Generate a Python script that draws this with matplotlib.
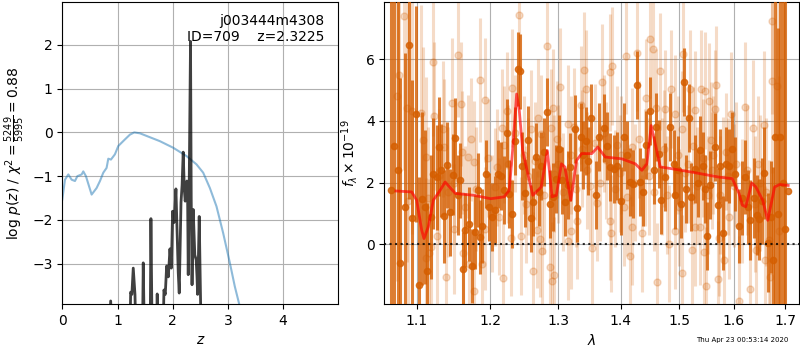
import numpy as np
import matplotlib
matplotlib.use('Agg')
import matplotlib.pyplot as plt
from matplotlib.ticker import NullLocator, FixedLocator, FixedFormatter

# --- p(z) panel ---
z_chi2 = [0.0, 0.048, 0.109, 0.169, 0.229, 0.272, 0.350, 0.380, 0.428, 0.531,
          0.621, 0.682, 0.742, 0.802, 0.833, 0.881, 0.953, 1.014, 1.134, 1.225,
          1.303, 1.406, 1.587, 1.768, 2.009, 2.250, 2.431, 2.552, 2.673, 2.793,
          2.914, 3.035, 3.125, 3.204, 3.30]
chi2_scaled = [-1.53, -1.08, -0.96, -1.08, -1.11, -1.0, -0.96, -0.89, -1.0, -1.42,
               -1.27, -1.11, -0.92, -0.81, -0.60, -0.62, -0.50, -0.31, -0.16, -0.05,
               0.0, -0.02, -0.11, -0.20, -0.35, -0.54, -0.73, -0.92, -1.27, -1.69,
               -2.30, -2.98, -3.52, -3.92, -4.6]

z_pdf = [0.84, 0.876, 0.91, 1.22, 1.238, 1.26, 1.285, 1.316, 1.34, 1.45,
         1.466, 1.49, 1.59, 1.605, 1.63, 1.70, 1.719, 1.74, 1.82, 1.841,
         1.865, 1.890, 1.92, 1.950, 1.975, 1.998, 2.022, 2.04, 2.058, 2.08,
         2.10, 2.118, 2.15, 2.17, 2.190, 2.21, 2.226, 2.257, 2.27, 2.281,
         2.30, 2.3225, 2.335, 2.35, 2.371, 2.40, 2.425, 2.44, 2.451, 2.465,
         2.480, 2.50, 2.52]
log_pdf = [-5, -3.85, -5, -5, -3.65, -3.70, -3.10, -3.70, -5, -5,
           -2.98, -5, -5, -1.97, -5, -5, -3.69, -5, -5, -3.60,
           -3.70, -3.05, -3.30, -2.66, -3.10, -1.80, -2.06, -1.75, -1.29, -2.30,
           -3.20, -3.67, -1.60, -1.20, -0.45, -1.30, -1.57, -1.11, -1.50, -3.25,
           -1.00, 2.08, -1.50, -3.48, -1.76, -2.80, -2.91, -3.30, -3.70, -2.90,
           -1.92, -3.50, -5]

# --- spectrum panel ---
# binned spectrum (dark)
wave_d = [1.0670, 1.0712, 1.0754, 1.0789, 1.0850, 1.0895, 1.0933, 1.0995, 1.1034, 1.1074,
          1.1113, 1.1139, 1.1183, 1.1217, 1.1262, 1.1296, 1.1322, 1.1362, 1.1401, 1.1446,
          1.1477, 1.1508, 1.1545, 1.1584, 1.1625, 1.1652, 1.1696, 1.1737, 1.1778, 1.1824,
          1.1858, 1.1887, 1.1933, 1.1980, 1.2020, 1.2069, 1.2110, 1.2151, 1.2189, 1.2232,
          1.2271, 1.2305, 1.2354, 1.2392, 1.2427, 1.2465, 1.2509, 1.2548, 1.2588, 1.2627,
          1.2671, 1.2707, 1.2746, 1.2785, 1.2835, 1.2875, 1.2925, 1.2970, 1.3016, 1.3057,
          1.3113, 1.3148, 1.3189, 1.3260, 1.3302, 1.3353, 1.3390, 1.3430, 1.3472, 1.3519,
          1.3589, 1.3643, 1.3722, 1.3776, 1.3830, 1.3885, 1.3942, 1.4000, 1.4053, 1.4100,
          1.4146, 1.4208, 1.4264, 1.4314, 1.4370, 1.4432, 1.4500, 1.4557, 1.4600, 1.4646,
          1.4690, 1.4758, 1.4844, 1.4902, 1.4930, 1.4980, 1.5034, 1.5087, 1.5122, 1.5181,
          1.5209, 1.5280, 1.5330, 1.5379, 1.5428, 1.5470, 1.5507, 1.5562, 1.5641, 1.5702,
          1.5745, 1.5806, 1.5857, 1.5919, 1.5975, 1.6032, 1.6107, 1.6160, 1.6221, 1.6270,
          1.6311, 1.6380, 1.6440, 1.6491, 1.6540, 1.6588, 1.6654, 1.6719, 1.6760, 1.6805,
          1.6850, 1.6905, 1.6950, 1.7000, 1.7059]
flux_d = [1.75, 3.2, 2.40, -0.61, 1.2, 6.46, 0.84, 4.22, -1.31, 1.48,
          1.21, -0.85, 0.89, 2.29, 2.18, 3.17, 2.40, 0.91, 2.58, 1.04,
          2.26, 3.43, 1.6, 2.07, -0.79, 0.46, 0.65, -0.71, 0.40, 1.75,
          0.25, 0.6, 2.29, 1.2, 0.9, 1.13, 2.29, 2.23, 1.75, 3.6,
          1.64, 0.97, 3.36, 5.67, 5.6, 2.55, 1.66, 3.38, 0.84, 1.38,
          2.82, 1.70, 2.55, 3.0, 4.3, 1.3, 1.54, 2.13, 3.09, 2.07,
          1.38, 1.92, 2.5, 3.74, 1.19, 3.47, 2.9, 3.36, 2.7, 4.1,
          1.61, 3.48, 3.78, 3.2, 2.5, 2.45, 2.55, 1.4, 3.47, 2.9,
          2.02, 1.97, 5.16, 2.02, 1.70, 3.22, 4.31, 2.4, 3.8, 2.93,
          1.43, 2.18, 3.81, 2.61, 1.59, 2.4, 1.30, 5.25, 1.79, 4.09,
          1.54, 2.45, 2.0, 3.06, 2.55, 1.8, 0.26, 1.93, 3.15, 1.26,
          2.55, 0.37, 2.61, 2.55, 3.1, 2.29, 0.59, 1.5, 2.18, 1.2,
          0.78, 1.5, 0.95, 0.81, 1.4, 2.31, 0.05, 0.89, -0.5, 3.49,
          1.0, 3.47, 2.0, 0.5, 1.72]
err_d = [8, 7, 7, 6, 5, 5, 4.5, 3.5, 3.5, 2.8,
         2.5, 2.2, 2.0, 1.8, 1.7, 1.6, 1.5, 1.5, 1.4, 1.4,
         1.3, 1.3, 1.3, 1.2, 1.2, 1.2, 1.2, 1.2, 1.2, 1.2,
         1.2, 1.2, 1.1, 1.1, 1.1, 1.1, 1.1, 1.1, 1.1, 1.1,
         1.1, 1.1, 1.1, 1.2, 1.2, 1.1, 1.1, 1.1, 1.1, 1.1,
         1.1, 1.1, 1.1, 1.1, 1.1, 1.1, 1.1, 1.1, 1.1, 1.1,
         1.1, 1.1, 1.1, 1.1, 1.1, 1.1, 1.1, 1.1, 1.1, 1.1,
         1.1, 1.1, 1.1, 1.1, 1.1, 1.1, 1.1, 1.1, 1.1, 1.1,
         1.1, 1.1, 1.1, 1.1, 1.1, 1.1, 1.1, 1.1, 1.1, 1.1,
         1.1, 1.1, 1.1, 1.1, 1.1, 1.1, 1.1, 1.1, 1.1, 1.1,
         1.1, 1.1, 1.1, 1.1, 1.1, 1.1, 1.1, 1.1, 1.1, 1.2,
         1.2, 1.2, 1.2, 1.2, 1.2, 1.2, 1.2, 1.2, 1.2, 1.2,
         1.3, 1.3, 1.3, 1.3, 1.4, 1.5, 1.6, 1.8, 3.0, 6.0,
         6, 8, 9, 10, 0]

# unbinned spectrum (light)
wave_l = [1.0746, 1.0776, 1.0838, 1.0872, 1.0891, 1.0945, 1.1061, 1.1086, 1.1118, 1.1125,
          1.1160, 1.1183, 1.1209, 1.1225, 1.1270, 1.1348, 1.1362, 1.1390, 1.1473, 1.1491,
          1.1500, 1.1553, 1.1588, 1.1607, 1.1620, 1.1692, 1.1706, 1.1769, 1.1775, 1.1800,
          1.1860, 1.1878, 1.1919, 1.1925, 1.2064, 1.2100, 1.2160, 1.2184, 1.2199, 1.2232,
          1.2296, 1.2305, 1.2418, 1.2441, 1.2550, 1.2597, 1.2622, 1.2686, 1.2697, 1.2723,
          1.2746, 1.2752, 1.2835, 1.2871, 1.2895, 1.2905, 1.2920, 1.2935, 1.2945, 1.3000,
          1.3037, 1.3148, 1.3155, 1.3199, 1.3251, 1.3302, 1.3353, 1.3406, 1.3430, 1.3450,
          1.3535, 1.3616, 1.3697, 1.3751, 1.3815, 1.3830, 1.3847, 1.3858, 1.3942, 1.3980,
          1.4080, 1.4108, 1.4146, 1.4182, 1.4190, 1.4275, 1.4359, 1.4400, 1.4432, 1.4500,
          1.4546, 1.4602, 1.4607, 1.4659, 1.4700, 1.4758, 1.4817, 1.4864, 1.4919, 1.4925,
          1.5048, 1.5055, 1.5077, 1.5150, 1.5191, 1.5221, 1.5280, 1.5289, 1.5366, 1.5397,
          1.5452, 1.5470, 1.5482, 1.5535, 1.5580, 1.5600, 1.5641, 1.5672, 1.5702, 1.5719,
          1.5795, 1.5826, 1.5919, 1.5951, 1.6000, 1.6096, 1.6221, 1.6311, 1.6363, 1.6427,
          1.6500, 1.6588, 1.6595, 1.6675, 1.6700, 1.6733, 1.6739, 1.6840, 1.6887,
          1.1150, 1.1300, 1.1420, 1.1650, 1.1730, 1.1960, 1.2030, 1.2130, 1.2260, 1.2360,
          1.2480, 1.2520, 1.2650, 1.2780, 1.2990, 1.3080, 1.3200, 1.3280, 1.3380, 1.3500,
          1.3580, 1.3660, 1.3720, 1.3900, 1.4000, 1.4050, 1.4230, 1.4300, 1.4480, 1.4560,
          1.4730, 1.4790, 1.4980, 1.5000, 1.5100, 1.5250, 1.5320, 1.5420, 1.5520, 1.5620,
          1.5750, 1.5850, 1.5900, 1.6050, 1.6150, 1.6260, 1.6400, 1.6460, 1.6620]
flux_l = [4.82, 5.49, 7.40, 4.42, 1.39, 4.33, 4.26, 3.38, 2.82, -0.45,
          -0.29, -0.09, 5.90, 4.17, 0.27, 3.75, 3.15, -1.04, 4.59, 0.51,
          2.0, 6.14, 4.54, 2.98, -0.29, 2.84, -0.64, 2.66, -1.50, 1.8,
          5.32, -0.64, 4.68, 0.51, 1.86, 2.5, 3.77, -1.09, 3.23, 4.33,
          0.22, 5.06, 7.43, 0.27, 2.2, 3.74, -0.85, 0.48, 4.09, 0.19,
          3.58, -0.21, 6.43, -0.73, 3.77, -1.18, 4.42, -1.0, 2.29, 2.6,
          5.10, 3.90, 0.1, 0.45, 3.81, 0.77, 4.52, 5.64, 5.03, 2.4,
          -0.13, 1.35, 5.25, 2.72, 5.57, 0.76, 0.36, 5.78, 3.23, 2.3,
          6.11, 1.54, -0.38, 3.15, 0.57, 6.21, 0.36, 2.5, 4.74, 6.64,
          6.32, 4.42, -1.21, 5.60, 2.2, 4.38, 0.02, 5.03, 4.22, 0.45,
          3.73, -0.94, 6.18, 2.6, 5.03, -0.19, 4.35, 0.56, 0.57, 5.03,
          -0.24, 4.98, -1.35, 4.63, 3.37, 2.4, 4.38, 5.16, -1.13, 0.22,
          2.13, -0.51, 0.89, 4.22, 1.9, -1.83, 4.46, -1.45, 3.76, -0.19,
          2.0, 3.87, -0.51, 0.14, -1.07, 5.30, 7.22, 5.12, 0.45,
          1.5, 2.2, 1.7, 1.2, 3.4, 2.8, 1.0, 0.9, 2.6, 3.6,
          2.9, 1.3, 2.7, 1.6, 3.4, 1.7, 2.9, 1.8, 3.1, 1.9,
          3.3, 2.0, 3.6, 1.8, 2.9, 1.2, 2.0, 3.4, 2.2, 1.7,
          3.1, 1.6, 2.9, 1.2, 2.3, 3.2, 1.9, 2.8, 1.6, 2.9,
          1.6, 3.0, 2.2, 2.6, 1.4, 2.4, 1.3, 2.6, 1.7]
err_l = [6, 6, 5, 5, 5, 4, 3.5, 3, 2.6, 2.6,
         2.4, 2.4, 2.4, 2.4, 2.2, 2.2, 2.2, 2.2, 2.1, 2.1,
         2.0, 2.0, 2.0, 2.0, 2.0, 2.0, 2.0, 2.0, 2.0, 2.0,
         2.0, 2.0, 2.0, 2.0, 1.9, 1.9, 1.9, 1.9, 1.9, 1.9,
         1.9, 1.9, 1.9, 1.9, 1.9, 1.9, 1.9, 1.9, 1.9, 1.9,
         1.9, 1.9, 1.9, 1.9, 1.9, 1.9, 1.9, 1.9, 1.9, 1.9,
         1.9, 1.9, 1.9, 1.9, 1.9, 1.9, 1.9, 1.9, 1.9, 1.9,
         1.9, 1.9, 1.9, 1.9, 1.9, 1.9, 1.9, 1.9, 1.9, 1.9,
         1.9, 1.9, 1.9, 1.9, 1.9, 1.9, 1.9, 1.9, 1.9, 1.9,
         1.9, 1.9, 1.9, 1.9, 1.9, 1.9, 1.9, 1.9, 1.9, 1.9,
         1.9, 1.9, 1.9, 1.9, 1.9, 1.9, 1.9, 1.9, 1.9, 1.9,
         1.9, 1.9, 1.9, 1.9, 1.9, 1.9, 1.9, 1.9, 1.9, 1.9,
         2.0, 2.0, 2.0, 2.0, 2.0, 2.1, 2.1, 2.2, 2.2, 2.2,
         2.2, 2.4, 2.4, 2.6, 2.6, 3.0, 3.0, 4.0, 5.0,
         2.3, 2.2, 2.1, 2.0, 2.0, 1.9, 1.9, 1.9, 1.9, 1.9,
         1.9, 1.9, 1.9, 1.9, 1.9, 1.9, 1.9, 1.9, 1.9, 1.9,
         1.9, 1.9, 1.9, 1.9, 1.9, 1.9, 1.9, 1.9, 1.9, 1.9,
         1.9, 1.9, 1.9, 1.9, 1.9, 1.9, 1.9, 1.9, 1.9, 1.9,
         1.9, 1.9, 1.9, 2.0, 2.0, 2.1, 2.2, 2.2, 2.4]

# best-fit model
wave_m = [1.0734, 1.0935, 1.1000, 1.1065, 1.1095, 1.1152, 1.1218, 1.1308, 1.1376, 1.1514,
          1.1768, 1.2005, 1.2198, 1.2271, 1.2320, 1.2379, 1.2418, 1.2468, 1.2543, 1.2618,
          1.2744, 1.2836, 1.2908, 1.2974, 1.3052, 1.3104, 1.3198, 1.3288, 1.3367, 1.3528,
          1.3625, 1.3745, 1.4019, 1.4242, 1.4354, 1.4439, 1.4513, 1.4582, 1.4669, 1.4873,
          1.5230, 1.5721, 1.5972, 1.6100, 1.6164, 1.6228, 1.6345, 1.6424, 1.6557, 1.6656,
          1.6792, 1.6893, 1.7063]
flux_m = [1.73, 1.70, 1.43, 0.46, 0.19, 0.57, 1.43, 1.75, 2.02, 1.65,
          1.59, 1.48, 1.54, 1.75, 3.04, 4.87, 4.33, 3.04, 2.29, 1.59,
          1.86, 3.04, 1.54, 1.59, 2.61, 2.51, 1.43, 2.72, 2.94, 2.94,
          3.15, 2.83, 2.77, 2.61, 2.40, 2.61, 3.85, 3.26, 2.51, 2.45,
          2.34, 2.18, 2.13, 1.65, 1.27, 1.22, 1.99, 1.86, 1.43, 0.78,
          1.86, 1.94, 1.91]

z_ticks = [0, 1, 2, 3, 4]
logp_ticks = [-3, -2, -1, 0, 1, 2]
wave_ticks = [1.1, 1.2, 1.3, 1.4, 1.5, 1.6, 1.7]
flux_ticks = [0, 2, 4, 6]

g141_color = (0.8353, 0.3686, 0.0)

fig = plt.figure(figsize=(8, 3.5), dpi=100)
ax_pz = fig.add_axes([0.0779, 0.1314, 0.3450, 0.8629])
ax_sp = fig.add_axes([0.4804, 0.1314, 0.5188, 0.8629])

# p(z)
ax_pz.plot(z_chi2, chi2_scaled, color='#1f77b4', alpha=0.5, linewidth=1.5)
ax_pz.plot(z_pdf, log_pdf, color='k', alpha=0.75, linewidth=2)
ax_pz.set_xlim(0, 5.0)
ax_pz.set_ylim(-3.92, 2.98)
ax_pz.set_xticks(z_ticks)
ax_pz.set_yticks(logp_ticks)
ax_pz.grid()
ax_pz.set_xlabel(r'$z$')
ax_pz.set_ylabel(r'$\log\,p(z)$ / $\chi^2=\frac{5249}{5995}=0.88$')
ax_pz.text(0.95, 0.96, 'j003444m4308\nID=709    z=2.3225', ha='right', va='top',
           transform=ax_pz.transAxes, fontsize=10)

# spectrum
ax_sp.errorbar(wave_l, flux_l, yerr=err_l, marker='o', linestyle='None', color=g141_color,
               alpha=0.22, markersize=5, elinewidth=2.2, zorder=2)
ax_sp.errorbar(wave_d, flux_d, yerr=err_d, marker='o', linestyle='None', color=g141_color,
               alpha=0.8, markersize=4.5, elinewidth=2.2, zorder=3)
ax_sp.plot(wave_m, flux_m, color='r', alpha=0.65, linewidth=2, zorder=4)
ax_sp.axhline(0, color='k', linestyle=':', linewidth=1.5, alpha=0.8, zorder=5)

ax_sp.set_xscale('log')
ax_sp.set_xlim(1.0587, 1.729)
ax_sp.set_ylim(-1.93, 7.85)
ax_sp.xaxis.set_major_locator(FixedLocator(wave_ticks))
ax_sp.xaxis.set_major_formatter(FixedFormatter([f'{w:.1f}' for w in wave_ticks]))
ax_sp.xaxis.set_minor_locator(NullLocator())
ax_sp.set_yticks(flux_ticks)
ax_sp.grid()
ax_sp.set_xlabel(r'$\lambda$')
ax_sp.set_ylabel(r'$f_\lambda\times10^{-19}$')

fig.text(1 - 0.015, 0.02, 'Thu Apr 23 00:53:14 2020', ha='right', va='bottom', fontsize=5)

fig.savefig('out.png', dpi=100)
